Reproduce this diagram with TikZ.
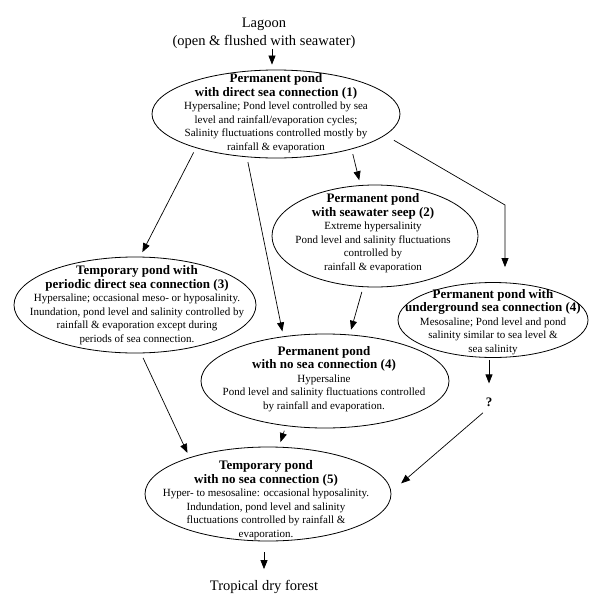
\documentclass[tikz,border=0pt]{standalone}
\usepackage{fontspec}
\setmainfont{Liberation Serif}
\usetikzlibrary{shapes.geometric}
\usetikzlibrary{arrows.meta}
\tikzstyle{pond}=[draw,ellipse,inner sep=0pt,line width=0.8pt]
\tikzstyle{pondtext}=[align=center,inner sep=0pt,font=\fontsize{11}{13.5}\selectfont]
\tikzstyle{endtext}=[align=center,inner sep=1pt,font=\fontsize{14.5}{18}\selectfont]
\tikzstyle{flow}=[-{Triangle[length=9pt,width=7pt]},line width=0.7pt,shorten <=5pt,shorten >=5pt]
\newcommand{\ptitle}[1]{{\fontsize{13}{15}\selectfont\bfseries #1}}

\begin{document}
\begin{tikzpicture}[x=1pt,y=-1pt]
  \useasboundingbox (0,0) rectangle (600,608);
  % start and end
  \node[endtext] (lagoon) at (264,33) {Lagoon\\(open \& flushed with seawater)};
  \node[endtext] (forest) at (264,587) {Tropical dry forest};
  % the ponds
  \node[pond,minimum width=248pt,minimum height=88pt] (p1) at (276,114) {};
  \node[pond,minimum width=206pt,minimum height=102pt] (p2) at (375,236) {};
  \node[pond,minimum width=242pt,minimum height=96pt] (p3) at (135,305) {};
  \node[pond,minimum width=190pt,minimum height=75pt] (p4u) at (493,320) {};
  \node[pond,minimum width=248pt,minimum height=94pt] (p4n) at (325,381) {};
  \node[pond,minimum width=246pt,minimum height=94pt] (p5) at (268,494) {};
  \node[pondtext] (t1) at (276,113) {\ptitle{Permanent pond}\\ \ptitle{with direct sea connection (1)}\\
    Hypersaline; Pond level controlled by sea\\ level and rainfall/evaporation cycles;\\
    Salinity fluctuations controlled mostly by\\ rainfall \& evaporation};
  \node[pondtext] (t2) at (373,233) {\ptitle{Permanent pond}\\ \ptitle{with seawater seep (2)}\\
    Extreme hypersalinity\\ Pond level and salinity fluctuations\\ controlled by\\ rainfall \& evaporation};
  \node[pondtext] (t3) at (137,305) {\ptitle{Temporary pond with}\\ \ptitle{periodic direct sea connection (3)}\\
    Hypersaline; occasional meso- or hyposalinity.\\ Inundation, pond level and salinity controlled by\\
    rainfall \& evaporation except during\\ periods of sea connection.};
  \node[pondtext] (t4u) at (493,322) {\ptitle{Permanent pond with}\\ \ptitle{underground sea connection (4)}\\
    Mesosaline; Pond level and pond\\ salinity similar to sea level \&\\ sea salinity};
  \node[pondtext] (t4n) at (324,379) {\ptitle{Permanent pond}\\ \ptitle{with no sea connection (4)}\\
    Hypersaline\\ Pond level and salinity fluctuations controlled\\ by rainfall and evaporation.};
  \node[pondtext] (t5) at (266,500) {\ptitle{Temporary pond}\\ \ptitle{with no sea connection (5)}\\
    Hyper- to mesosaline: occasional hyposalinity.\\ Indundation, pond level and salinity\\
    fluctuations controlled by rainfall \&\\ evaporation.};
  \node[inner sep=1pt,font=\fontsize{13}{15}\selectfont\bfseries] (qm) at (489,402) {?};
  \coordinate (bend) at (505,205);
  % connections
  \draw[flow,shorten <=0pt] ([xshift=8pt]lagoon.south) -- ([xshift=8pt]lagoon.south |- p1.north);
  \draw[flow] (p1.203) -- (p3.84);
  \draw[flow] (p1.236) -- (p4n.133);
  \draw[flow] (p1.335) -- (p2.106);
  \draw[flow,shorten <=10pt,shorten >=15pt] (p1.349) -- (bend) -- (bend |- p4u.north);
  \draw[flow] (p2.257) -- (p4n.62);
  \draw[flow] (p3.277) -- (p5.155);
  \draw[flow] (p4n.229) -- (p5.77);
  \draw[flow,shorten <=2pt,shorten >=13pt] (qm |- p4u.south) -- (qm.north);
  \draw[flow,shorten <=8pt,shorten >=13pt] (qm.south) -- (p5.1);
  \draw[flow,shorten <=11pt,shorten >=10pt] (forest |- p5.south) -- (forest.north);
\end{tikzpicture}
\end{document}
